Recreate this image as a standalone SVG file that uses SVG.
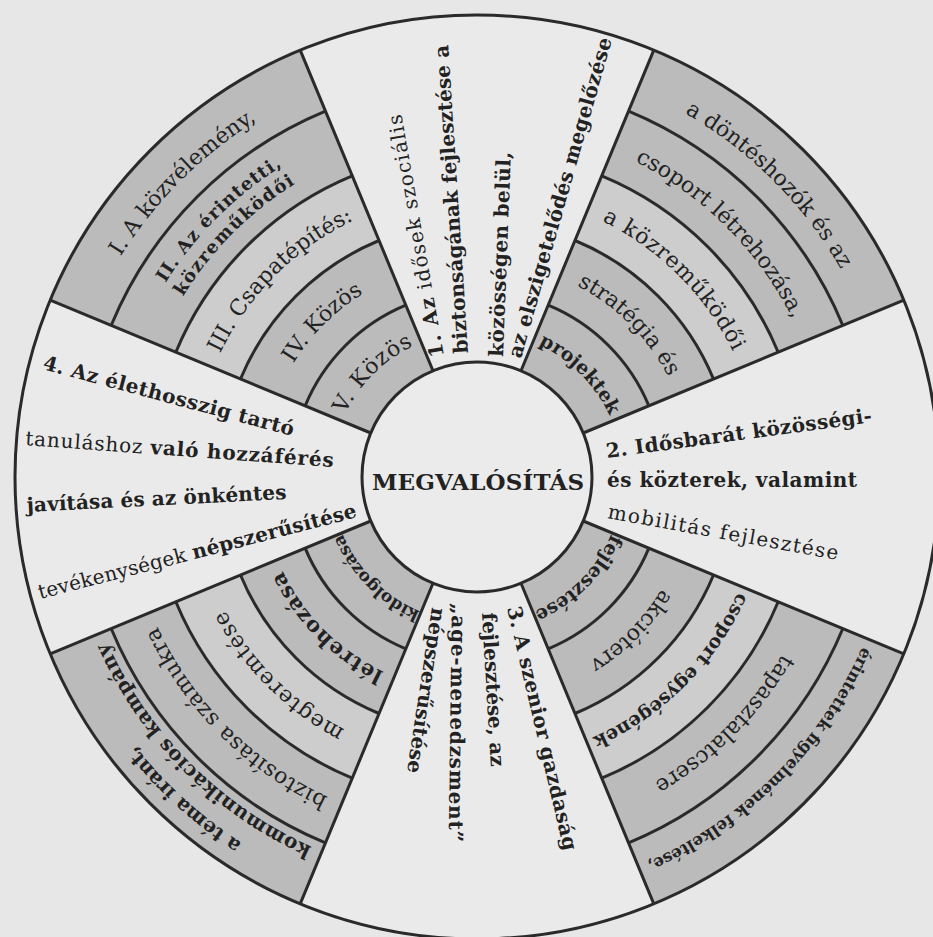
<svg xmlns="http://www.w3.org/2000/svg" width="933" height="937" viewBox="0 0 933 937">
<style>
  .bgc{fill:#e7e7e7}
  .g{fill:#bbbbbb}
  .gl{fill:#cdcdcd}
  .ln{fill:none;stroke:#2a2a2a;stroke-width:3}
  text{font-family:"DejaVu Serif","Liberation Serif",serif;fill:#222;font-size:22px}
  .b{font-weight:bold}
  .w{font-size:20px}
  .rt{text-anchor:middle}
</style>
<defs>
  <g id="gsec">
    <path class="g" d="M176.80,-426.83A462,462 0 0 1 426.83,-176.80L106.25,-44.01A115,115 0 0 0 44.01,-106.25Z"/>
    <path class="gl" d="M124.75,-301.18A326,326 0 0 1 301.18,-124.75L236.51,-97.97A256,256 0 0 0 97.97,-236.51Z"/>
    <path class="ln" d="M151.54,-365.86A396,396 0 0 1 365.86,-151.54M124.75,-301.18A326,326 0 0 1 301.18,-124.75M97.97,-236.51A256,256 0 0 1 236.51,-97.97M71.18,-171.84A186,186 0 0 1 171.84,-71.18"/>
  </g>
  <path id="a435" d="M0,-435A435,435 0 0 1 435,0"/>
  <path id="a421" d="M0,-421A421,421 0 0 1 421,0"/>
  <path id="a419" d="M0,-419A419,419 0 0 1 419,0"/>
  <path id="a405" d="M0,-405A405,405 0 0 1 405,0"/>
  <path id="a367" d="M0,-367A367,367 0 0 1 367,0"/>
  <path id="a353" d="M0,-353A353,353 0 0 1 353,0"/>
  <path id="a345" d="M0,-345A345,345 0 0 1 345,0"/>
  <path id="a285" d="M0,-285A285,285 0 0 1 285,0"/>
  <path id="a216" d="M0,-216A216,216 0 0 1 216,0"/>
  <path id="a146" d="M0,-146A146,146 0 0 1 146,0"/>
</defs>

<rect class="bgc" x="0" y="0" width="933" height="937"/>
<circle cx="477" cy="477" r="462" fill="#eaeaea"/>

<!-- gray sectors with ring bands -->
<g id="sector-upper-left" transform="translate(477,477) rotate(-90)">
  <use href="#gsec"/>
  <text class="rt"><textPath href="#a419" startOffset="50%">I. A közvélemény,</textPath></text>
  <text class="rt b" style="font-size:18px;letter-spacing:1px"><textPath href="#a367" startOffset="50%">II. Az érintetti,</textPath></text>
  <text class="rt b" style="font-size:18px;letter-spacing:1.5px"><textPath href="#a345" startOffset="50%">közreműködői</textPath></text>
  <text class="rt"><textPath href="#a285" startOffset="50%">III. Csapatépítés:</textPath></text>
  <text class="rt"><textPath href="#a216" startOffset="50%">IV. Közös</textPath></text>
  <text class="rt" style="letter-spacing:1px"><textPath href="#a146" startOffset="50%">V. Közös</textPath></text>
</g>
<g id="sector-upper-right" transform="translate(477,477)">
  <use href="#gsec"/>
  <text class="rt"><textPath href="#a419" startOffset="50%">a döntéshozók és az</textPath></text>
  <text class="rt"><textPath href="#a353" startOffset="50%">csoport létrehozása,</textPath></text>
  <text class="rt" style="letter-spacing:0.8px"><textPath href="#a285" startOffset="50%">a közreműködői</textPath></text>
  <text class="rt"><textPath href="#a216" startOffset="50%">stratégia és</textPath></text>
  <text class="rt b" style="font-size:19px"><textPath href="#a146" startOffset="50%">projektek</textPath></text>
</g>
<g id="sector-lower-right" transform="translate(477,477) rotate(90)">
  <use href="#gsec"/>
  <text class="rt b" style="font-size:16.5px"><textPath href="#a421" startOffset="50%">érintettek figyelmének felkeltése,</textPath></text>
  <text class="rt"><textPath href="#a353" startOffset="50%">tapasztalatcsere</textPath></text>
  <text class="rt b" style="font-size:19px"><textPath href="#a285" startOffset="50%">csoport egységének</textPath></text>
  <text class="rt"><textPath href="#a216" startOffset="50%">akcióterv</textPath></text>
  <text class="rt b" style="font-size:19px"><textPath href="#a146" startOffset="50%">fejlesztése</textPath></text>
</g>
<g id="sector-lower-left" transform="translate(477,477) rotate(180)">
  <use href="#gsec"/>
  <text class="rt b" style="font-size:20px"><textPath href="#a435" startOffset="47%">a téma iránt,</textPath></text>
  <text class="rt b" style="font-size:20px;letter-spacing:0.5px"><textPath href="#a405" startOffset="50%">kommunikációs kampány</textPath></text>
  <text class="rt" style="letter-spacing:0.6px"><textPath href="#a353" startOffset="50%">biztosítása számukra</textPath></text>
  <text class="rt" style="letter-spacing:1px"><textPath href="#a285" startOffset="50%">megteremtése</textPath></text>
  <text class="rt b" style="font-size:21px;letter-spacing:1px"><textPath href="#a216" startOffset="50%">létrehozása</textPath></text>
  <text class="rt b" style="font-size:17px"><textPath href="#a146" startOffset="50%">kidolgozása</textPath></text>
</g>

<!-- dividers and circles -->
<g id="connectors" class="ln">
  <line x1="432.99" y1="370.75" x2="300.20" y2="50.17"/>
  <line x1="521.01" y1="370.75" x2="653.80" y2="50.17"/>
  <line x1="583.25" y1="432.99" x2="903.83" y2="300.20"/>
  <line x1="583.25" y1="521.01" x2="903.83" y2="653.80"/>
  <line x1="521.01" y1="583.25" x2="653.80" y2="903.83"/>
  <line x1="432.99" y1="583.25" x2="300.20" y2="903.83"/>
  <line x1="370.75" y1="521.01" x2="50.17" y2="653.80"/>
  <line x1="370.75" y1="432.99" x2="50.17" y2="300.20"/>
  <circle cx="477" cy="477" r="462"/>
</g>

<!-- white sectors -->
<g id="sector-1">
  <text class="w" x="444" y="356" transform="rotate(-100 444 356)" textLength="246"><tspan class="b">1. Az</tspan> idősek szociális</text>
  <text class="w b" x="468" y="353" transform="rotate(-93.7 468 353)" textLength="309">biztonságának fejlesztése a</text>
  <text class="w b" x="503" y="357" transform="rotate(-87.8 503 357)" textLength="205">közösségen belül,</text>
  <text class="w b" x="521" y="359" transform="rotate(-74.1 521 359)" textLength="332">az elszigetelődés megelőzése</text>
</g>
<g id="sector-2">
  <text class="w b" x="607" y="458" transform="rotate(-7.7 607 458)" textLength="268">2. Idősbarát közösségi-</text>
  <text class="w b" x="607" y="487" textLength="250">és közterek, valamint</text>
  <text class="w" x="607" y="518" transform="rotate(10.3 607 518)" textLength="234">mobilitás fejlesztése</text>
</g>
<g id="sector-3">
  <text class="w b" x="507" y="608" transform="rotate(76.8 507 608)" textLength="250">3. A szenior gazdaság</text>
  <text class="w b" x="482" y="613" transform="rotate(86.7 482 613)" textLength="154">fejlesztése, az</text>
  <text class="w b" x="452" y="603" transform="rotate(90.8 452 603)" textLength="239">„age-menedzsment”</text>
  <text class="w b" x="432" y="607" transform="rotate(98.6 432 607)" textLength="167">népszerűsítése</text>
</g>
<g id="sector-4">
  <text class="w b" x="42" y="369" transform="rotate(15 42 369)" textLength="259">4. Az élethosszig tartó</text>
  <text class="w" x="25" y="445" transform="rotate(4.1 25 445)" textLength="309">tanuláshoz <tspan class="b">való hozzáférés</tspan></text>
  <text class="w b" x="27" y="512" transform="rotate(-2.9 27 512)" textLength="260">javítása és az önkéntes</text>
  <text class="w" x="40" y="599" transform="rotate(-14.5 40 599)" textLength="328">tevékenységek <tspan class="b">népszerűsítése</tspan></text>
</g>

<!-- center -->
<g id="center">
  <circle cx="477" cy="477" r="115" fill="#ebebeb" stroke="#2a2a2a" stroke-width="3"/>
  <text class="b" x="478" y="490" text-anchor="middle" style="font-size:23px" textLength="212">MEGVALÓSÍTÁS</text>
</g>
</svg>
